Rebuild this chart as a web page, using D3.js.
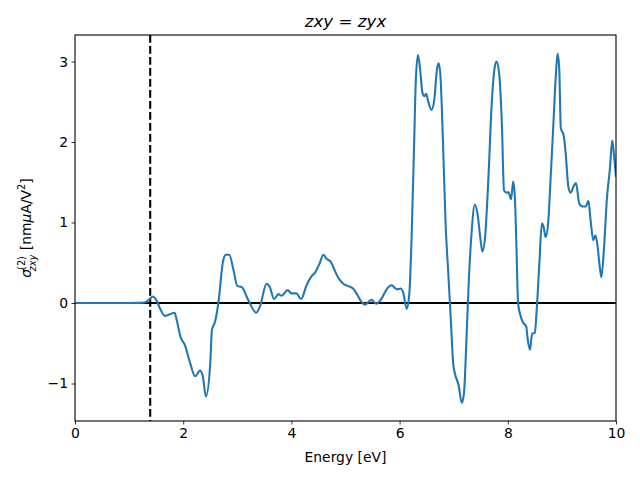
<!DOCTYPE html>
<html><head><meta charset="utf-8">
<script src="https://cdn.jsdelivr.net/npm/d3@7"></script>
<style>body{margin:0;background:#fff}svg{display:block}text{font-family:"DejaVu Sans",sans-serif}</style>
</head><body><svg id="c" width="640" height="480"></svg>
<script>
const energy = [0,0.5,1.0,1.2,1.3,1.38,1.44,1.5,1.58,1.66,1.79,1.84,1.88,1.95,2.03,2.13,2.22,2.31,2.36,2.42,2.50,2.53,2.59,2.65,2.74,2.79,2.85,2.93,3.0,3.08,3.2,3.35,3.42,3.54,3.60,3.68,3.76,3.82,3.93,4.0,4.09,4.18,4.28,4.37,4.44,4.52,4.59,4.65,4.73,4.81,4.87,4.96,5.05,5.14,5.22,5.30,5.36,5.48,5.57,5.67,5.76,5.85,5.95,6.02,6.07,6.13,6.18,6.22,6.27,6.30,6.34,6.38,6.42,6.46,6.49,6.53,6.59,6.64,6.69,6.72,6.75,6.78,6.81,6.85,6.90,6.95,6.99,7.02,7.09,7.15,7.19,7.24,7.28,7.33,7.39,7.44,7.49,7.53,7.58,7.64,7.70,7.75,7.79,7.84,7.89,7.93,7.98,8.01,8.06,8.10,8.13,8.16,8.19,8.24,8.29,8.34,8.37,8.41,8.45,8.50,8.53,8.58,8.63,8.66,8.70,8.75,8.79,8.84,8.89,8.92,8.95,8.98,9.03,9.07,9.12,9.16,9.21,9.26,9.32,9.38,9.44,9.49,9.53,9.58,9.62,9.66,9.70,9.73,9.78,9.83,9.89,9.93,9.96,10.0];
const sigma = [0,0,0,0.002,0.01,0.05,0.08,0.04,-0.08,-0.16,-0.13,-0.12,-0.21,-0.42,-0.52,-0.75,-0.91,-0.84,-0.9,-1.16,-0.75,-0.34,-0.23,0.0,0.53,0.6,0.6,0.41,0.21,0.2,0.04,-0.12,-0.04,0.24,0.2,0.05,0.11,0.09,0.16,0.12,0.12,0.05,0.22,0.33,0.38,0.49,0.6,0.55,0.51,0.39,0.31,0.24,0.21,0.18,0.1,0.01,-0.02,0.04,-0.01,0.06,0.17,0.22,0.17,0.18,0.12,-0.07,0.12,0.78,2.02,2.77,3.08,2.9,2.62,2.57,2.6,2.5,2.4,2.52,2.9,2.98,2.87,2.44,1.82,0.99,0.37,-0.25,-0.75,-0.87,-1.02,-1.24,-1.12,-0.38,0.29,0.87,1.22,1.11,0.82,0.64,0.82,1.53,2.44,2.89,3.0,2.85,2.23,1.4,1.37,1.38,1.29,1.51,1.32,0.7,0.0,-0.17,-0.25,-0.29,-0.46,-0.58,-0.38,-0.37,-0.13,0.45,0.99,0.95,0.82,1.03,1.53,2.19,2.85,3.1,2.93,2.17,2.09,1.86,1.44,1.37,1.44,1.49,1.24,1.2,1.2,1.27,1.03,0.78,0.84,0.7,0.45,0.32,0.7,1.28,1.69,2.02,1.86,1.57];
const xTicks = [0,2,4,6,8,10];
const yTicks = [-1,0,1,2,3];
const gapEnergy = 1.39;

const svg = d3.select("#c");
const L=75,R=616,T=35,B=421;
const x = d3.scaleLinear().domain([0,10]).range([L,R]);
const y = d3.scaleLinear().domain([-1.466,3.33]).range([B,T]);
const clipId="clp";
svg.append("clipPath").attr("id",clipId).append("rect").attr("x",L).attr("y",T).attr("width",R-L).attr("height",B-T);

const fmt = d=> d<0 ? "\u2212"+Math.abs(d) : String(d);
const xa = svg.append("g").attr("transform",`translate(0,${B})`)
  .call(d3.axisBottom(x).tickValues(xTicks).tickSize(3.5).tickPadding(3.5).tickFormat(fmt));
const ya = svg.append("g").attr("transform",`translate(${L},0)`)
  .call(d3.axisLeft(y).tickValues(yTicks).tickSize(3.5).tickPadding(3.5).tickFormat(fmt));
[xa,ya].forEach(a=>{a.select(".domain").remove();a.selectAll("line").attr("stroke","#000").attr("stroke-width",0.8);
  a.selectAll("text").attr("font-size",13.9).attr("fill","#000").attr("font-family","DejaVu Sans");});

const g = svg.append("g").attr("clip-path",`url(#${clipId})`);
g.append("line").attr("x1",x(0)).attr("x2",x(10)).attr("y1",y(0)).attr("y2",y(0)).attr("stroke","#000").attr("stroke-width",2.08);
g.append("line").attr("x1",x(gapEnergy)).attr("x2",x(gapEnergy)).attr("y1",T).attr("y2",B).attr("stroke","#000").attr("stroke-width",2.08).attr("stroke-dasharray","7.7,3.3");
const line = d3.line().x((d,i)=>x(energy[i])).y(d=>y(d)).curve(d3.curveMonotoneX);
g.append("path").attr("d",line(sigma)).attr("fill","none").attr("stroke","#1f77b4").attr("stroke-width",2.08).attr("stroke-linejoin","round");

svg.append("rect").attr("x",L).attr("y",T).attr("width",R-L).attr("height",B-T).attr("fill","none").attr("stroke","#000").attr("stroke-width",1.1);

// title
const t = svg.append("text").attr("x",(L+R)/2).attr("y",T-8).attr("text-anchor","middle").attr("font-size",16.7);
t.append("tspan").attr("font-style","italic").text("zxy");
t.append("tspan").text(" = ");
t.append("tspan").attr("font-style","italic").text("zyx");

svg.append("text").attr("x",(L+R)/2).attr("y",462).attr("text-anchor","middle").attr("font-size",13.9).text("Energy [eV]");

const yl = svg.append("text").attr("transform",`translate(31,${(T+B)/2}) rotate(-90)`).attr("text-anchor","middle").attr("font-size",13.9);
yl.append("tspan").attr("font-style","italic").text("σ");
yl.append("tspan").attr("font-size",9.7).attr("dy",-6).attr("dx",-1).text("(2)");
yl.append("tspan").attr("font-size",9.7).attr("font-style","italic").attr("dx",-15).attr("dy",11).text("zxy");
yl.append("tspan").attr("dy",-5).text(" [nm");
yl.append("tspan").attr("font-style","italic").text("μ");
yl.append("tspan").text("A/V");
yl.append("tspan").attr("font-size",9.7).attr("dy",-6).text("2");
yl.append("tspan").attr("dy",6).text("]");
</script></body></html>
